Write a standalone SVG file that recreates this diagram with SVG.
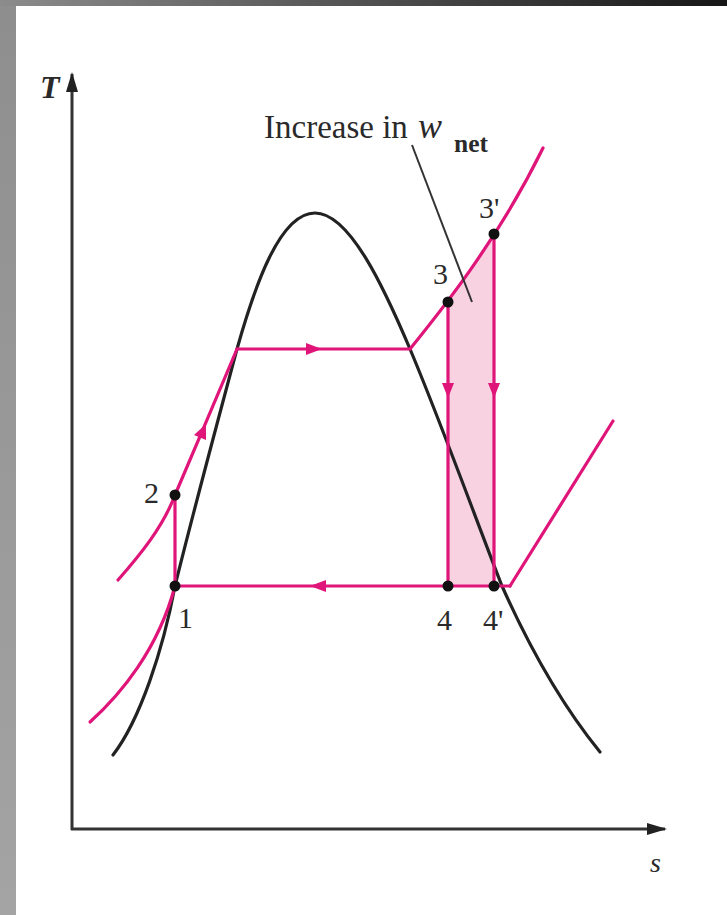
<svg xmlns="http://www.w3.org/2000/svg" width="727" height="915" viewBox="0 0 727 915">
<defs>
<linearGradient id="gTop" x1="0" y1="0" x2="1" y2="0"><stop offset="0" stop-color="#8c8c8c"/><stop offset="1" stop-color="#161616"/></linearGradient>
<linearGradient id="gLeft" x1="0" y1="0" x2="0" y2="1"><stop offset="0" stop-color="#8e8e8e"/><stop offset="1" stop-color="#a4a4a4"/></linearGradient>
<marker id="axArrow" markerWidth="20" markerHeight="12" refX="18" refY="6" orient="auto" markerUnits="userSpaceOnUse"><path d="M0,0 L20,6 L0,12 Z" fill="#222"/></marker>
</defs>
<style>
.pk{fill:none;stroke:#e0157a;stroke-width:3.2;stroke-linecap:round;stroke-linejoin:round}
.dome{fill:none;stroke:#222;stroke-width:3.2;stroke-linecap:round}
.ax{fill:none;stroke:#333;stroke-width:3}
.ah{fill:#e0157a}
.dot{fill:#111}
.lbl{font-family:"Liberation Serif","Times New Roman",serif;fill:#2a2a2a}
.num{font-family:"Liberation Serif","Times New Roman",serif;font-size:30px;fill:#2a2a2a}
</style>
<rect width="727" height="915" fill="#ffffff"/>
<rect x="0" y="0" width="16" height="915" fill="url(#gLeft)"/>
<rect x="0" y="0" width="727" height="6" fill="url(#gTop)"/>

<g id="axes">
<line class="ax" x1="72" y1="830" x2="72" y2="74" marker-end="url(#axArrow)"/>
<line class="ax" x1="71" y1="829" x2="665" y2="829" marker-end="url(#axArrow)"/>
<text class="lbl" x="40" y="98" font-size="32" font-style="italic" font-weight="bold">T</text>
<text class="lbl" x="650" y="872" font-size="28" font-style="italic">s</text>
</g>

<g id="shade">
<polygon points="448,302 494,234 494,586 448,586" fill="#f9d2e2"/>
</g>

<g id="dome">
<path class="dome" d="M113,755 C140,720 163,650 175,586 C190,525 222,405 237,349 C255,285 280,213 315,213 C350,213 385,290 410,349 C440,420 480,530 502,586 C535,660 570,715 600,752"/>
</g>

<g id="connectors">
<path class="pk" d="M90,722 C120,695 158,650 175,586"/>
<path class="pk" d="M118,580 C140,555 163,527 175,495 C192,455 222,385 237,349"/>
<line class="pk" x1="175" y1="495" x2="175" y2="586"/>
<line class="pk" x1="237" y1="349" x2="410" y2="349"/>
<path class="pk" d="M410,349 C440,312 498,240 543,148"/>
<line class="pk" x1="448" y1="302" x2="448" y2="586"/>
<line class="pk" x1="494" y1="234" x2="494" y2="586"/>
<line class="pk" x1="175" y1="586" x2="510" y2="586"/>
<line class="pk" x1="510" y1="586" x2="613" y2="421"/>
<polygon class="ah" points="322,349 306,343 306,355"/>
<polygon class="ah" points="310,586 326,580 326,592"/>
<polygon class="ah" points="448,398 442,383 454,383"/>
<polygon class="ah" points="494,398 488,383 500,383"/>
<polygon class="ah" points="206,424 206,440 194,435"/>
<line x1="412" y1="145" x2="472" y2="302" stroke="#333" stroke-width="2"/>
</g>

<g id="n1"><circle class="dot" cx="175" cy="586" r="5.5"/><text class="num" x="178" y="628">1</text></g>
<g id="n2"><circle class="dot" cx="175" cy="495" r="5.5"/><text class="num" x="144" y="503">2</text></g>
<g id="n3"><circle class="dot" cx="448" cy="302" r="5.5"/><text class="num" x="433" y="284">3</text></g>
<g id="n3p"><circle class="dot" cx="494" cy="234" r="5.5"/><text class="num" x="479" y="218">3'</text></g>
<g id="n4"><circle class="dot" cx="448" cy="586" r="5.5"/><text class="num" x="437" y="630">4</text></g>
<g id="n4p"><circle class="dot" cx="494" cy="586" r="5.5"/><text class="num" x="483" y="630">4'</text></g>

<g id="label">
<text class="lbl" x="264" y="138" font-size="33">Increase in</text>
<text class="lbl" x="418" y="138" font-size="36" font-style="italic">w</text>
<text class="lbl" x="454" y="152" font-size="26" font-weight="bold" textLength="34" lengthAdjust="spacingAndGlyphs">net</text>
</g>
</svg>
